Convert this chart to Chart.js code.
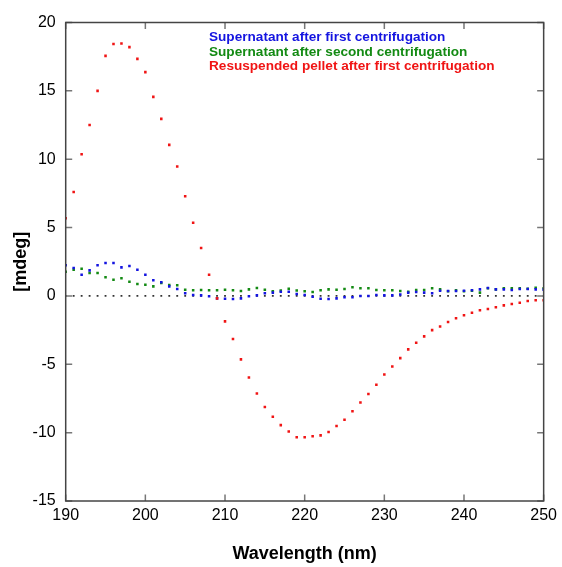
<!DOCTYPE html>
<html>
<head>
<meta charset="utf-8">
<script src="https://cdn.jsdelivr.net/npm/chart.js@4.4.0/dist/chart.umd.min.js"></script>
<style>
  html, body { margin: 0; padding: 0; background: #fff; }
  #wrap { width: 562px; height: 567px; position: relative; }
</style>
</head>
<body>
<div id="wrap"><canvas id="c" width="562" height="567"></canvas></div>
<script>
// Wavelength (nm), 1 nm steps
const wavelengths = [];
for (let w = 190; w <= 250; w++) wavelengths.push(w);

const seriesNames = [
  "Supernatant after first centrifugation",
  "Supernatant after second centrifugation",
  "Resuspended pellet after first centrifugation"
];

const supernatant1 = [2.24,2.04,1.55,1.87,2.24,2.41,2.41,2.09,2.19,1.92,
  1.55,1.14,1.0,0.7,0.5,0.19,0.07,0.04,-0.03,-0.18,
  -0.2,-0.23,-0.18,-0.03,0.04,0.19,0.24,0.31,0.31,0.14,
  0.07,-0.06,-0.2,-0.23,-0.18,-0.1,-0.1,0,0,0.07,
  0.04,0.04,0.1,0.24,0.29,0.24,0.19,0.38,0.36,0.36,
  0.38,0.41,0.48,0.58,0.48,0.48,0.43,0.51,0.51,0.48,0.46];

const supernatant2 = [1.77,1.92,1.99,1.68,1.68,1.36,1.19,1.29,1.04,0.87,
  0.82,0.7,0.94,0.8,0.78,0.45,0.41,0.43,0.41,0.41,
  0.45,0.41,0.36,0.48,0.58,0.45,0.34,0.39,0.53,0.39,
  0.34,0.29,0.41,0.48,0.45,0.51,0.63,0.56,0.56,0.43,
  0.41,0.41,0.36,0.31,0.43,0.43,0.56,0.48,0.34,0.41,
  0.34,0.38,0.24,0.56,0.48,0.56,0.56,0.56,0.53,0.6,0.56];

const pellet1 = [5.68,7.6,10.37,12.5,15.0,17.56,18.42,18.46,18.2,17.34,
  16.37,14.56,12.95,11.05,9.46,7.29,5.36,3.5,1.55,-0.18,
  -1.86,-3.15,-4.64,-5.96,-7.13,-8.13,-8.84,-9.45,-9.91,-10.33,
  -10.33,-10.26,-10.2,-9.96,-9.52,-9.06,-8.43,-7.79,-7.18,-6.5,
  -5.74,-5.16,-4.55,-3.91,-3.43,-2.96,-2.5,-2.23,-1.91,-1.64,
  -1.42,-1.23,-1.05,-0.96,-0.83,-0.69,-0.59,-0.5,-0.37,-0.32,-0.32];

const baseline = wavelengths.map(() => 0);

const xTicks = [190, 200, 210, 220, 230, 240, 250];
const yTicks = [-15, -10, -5, 0, 5, 10, 15, 20];

const colors = ["#1414e0", "#138a13", "#f01414"];
const FONT = "'Liberation Sans', Arial, Helvetica, sans-serif";

function pts(vals) { return wavelengths.map((w, i) => ({ x: w, y: vals[i] })); }

const framePlugin = {
  id: 'frame',
  afterDatasetsDraw(chart) {
    const { ctx, chartArea: a, scales: { x, y } } = chart;
    ctx.save();
    // ticks (inward)
    ctx.strokeStyle = '#777';
    ctx.lineWidth = 1.5;
    const L = 6.5;
    xTicks.forEach(v => {
      const px = x.getPixelForValue(v);
      ctx.beginPath();
      ctx.moveTo(px, a.bottom); ctx.lineTo(px, a.bottom - L);
      ctx.moveTo(px, a.top); ctx.lineTo(px, a.top + L);
      ctx.stroke();
    });
    yTicks.forEach(v => {
      const py = y.getPixelForValue(v);
      ctx.beginPath();
      ctx.moveTo(a.left, py); ctx.lineTo(a.left + L, py);
      ctx.moveTo(a.right, py); ctx.lineTo(a.right - L, py);
      ctx.stroke();
    });
    // frame
    ctx.strokeStyle = '#444';
    ctx.lineWidth = 1.5;
    ctx.strokeRect(a.left, a.top, a.right - a.left, a.bottom - a.top);
    // legend text
    ctx.font = "bold 13.6px " + FONT;
    ctx.textBaseline = 'middle';
    ctx.textAlign = 'left';
    const lx = 209, ly = [37.5, 52, 66.5];
    seriesNames.forEach((n, i) => {
      ctx.fillStyle = colors[i];
      ctx.fillText(n, lx, ly[i]);
    });
    ctx.restore();
  }
};

const ptStyle = { showLine: false, pointStyle: 'rect', pointRadius: 1.8, pointBorderWidth: 0, pointHoverRadius: 1.8 };

new Chart(document.getElementById('c'), {
  type: 'scatter',
  data: {
    datasets: [
      Object.assign({ label: seriesNames[2], data: pts(pellet1), backgroundColor: colors[2], order: 1 }, ptStyle),
      Object.assign({ label: seriesNames[0], data: pts(supernatant1), backgroundColor: colors[0], order: 2 }, ptStyle),
      Object.assign({ label: seriesNames[1], data: pts(supernatant2), backgroundColor: colors[1], order: 3 }, ptStyle),
      Object.assign({ label: 'zero', data: pts(baseline), backgroundColor: '#333', order: 4 }, ptStyle, { pointRadius: 1.3 })
    ]
  },
  options: {
    responsive: false,
    animation: false,
    devicePixelRatio: 1,
    layout: { padding: { top: 22.5, right: 18, left: 0, bottom: 0 } },
    plugins: { legend: { display: false }, tooltip: { enabled: false } },
    scales: {
      x: {
        type: 'linear', min: 190, max: 250,
        afterBuildTicks(s) { s.ticks = xTicks.map(v => ({ value: v })); },
        afterFit(s) { s.height = 66; },
        grid: { display: false, drawTicks: false },
        border: { display: false },
        ticks: { font: { family: FONT, size: 16 }, color: '#000', padding: 5, maxRotation: 0 },
        title: { display: true, text: 'Wavelength (nm)', font: { family: FONT, size: 18, weight: 'bold' }, color: '#000', padding: { top: 0, bottom: 2 } }
      },
      y: {
        type: 'linear', min: -15, max: 20,
        afterBuildTicks(s) { s.ticks = yTicks.map(v => ({ value: v })); },
        afterFit(s) { s.width = 65.7; },
        grid: { display: false, drawTicks: false },
        border: { display: false },
        ticks: { font: { family: FONT, size: 16 }, color: '#000', padding: 10 },
        title: { display: true, text: '[mdeg]', font: { family: FONT, size: 18, weight: 'bold' }, color: '#000', padding: { top: 10, bottom: 0 } }
      }
    }
  },
  plugins: [framePlugin]
});
</script>
</body>
</html>
